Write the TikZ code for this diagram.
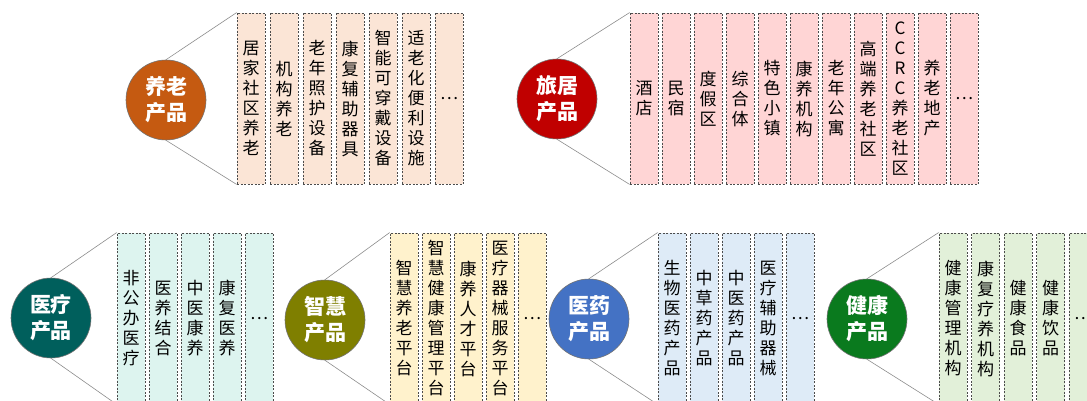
\documentclass[tikz,border=0pt]{standalone}
\usepackage{xcolor}
\usepackage{fontspec}
\usepackage{tikz}
\newfontfamily\cjk{Noto Sans CJK SC}
\definecolor{ylc}{HTML}{C55A11}
\definecolor{ylf}{HTML}{FBE5D6}
\definecolor{ljc}{HTML}{C00000}
\definecolor{ljf}{HTML}{FFD5D5}
\definecolor{ylic}{HTML}{005F5C}
\definecolor{ylif}{HTML}{DDF4EF}
\definecolor{zhc}{HTML}{7F7F00}
\definecolor{zhf}{HTML}{FFF2CC}
\definecolor{yyc}{HTML}{4472C4}
\definecolor{yyf}{HTML}{DEEBF7}
\definecolor{jkc}{HTML}{0A7A1E}
\definecolor{jkf}{HTML}{E2F0D9}
\tikzstyle{hub} = [circle, minimum size=80pt, inner sep=0pt, align=center, text=white, draw=black!55, line width=0.6pt, font=\cjk\bfseries\fontsize{21}{26}\selectfont]
\tikzstyle{cell} = [rectangle, minimum width=28pt, minimum height=171pt, inner sep=0pt, align=center, draw=black!70, dashed, dash pattern=on 2pt off 1.5pt, line width=0.8pt, font=\cjk\fontsize{17}{20}\selectfont]
\tikzstyle{spoke} = [draw=black!45, line width=0.6pt]

\begin{document}
\begin{tikzpicture}[x=1pt, y=-1pt, node distance=32pt]
\useasboundingbox (0,0) rectangle (1087,401);
\clip (0,0) rectangle (1087,401);
%---------------------------------养老产品
\node (yl) [hub, fill=ylc] at (166,100) {养老\\产品};
\node (yl1) [cell, fill=ylf] at (251,98.5) {居\\家\\社\\区\\养\\老};
\node (yl2) [cell, fill=ylf, node distance=33pt, right of=yl1] {机\\构\\养\\老};
\node (yl3) [cell, fill=ylf, node distance=33pt, right of=yl2] {老\\年\\照\\护\\设\\备};
\node (yl4) [cell, fill=ylf, node distance=33pt, right of=yl3] {康\\复\\辅\\助\\器\\具};
\node (yl5) [cell, fill=ylf, node distance=33pt, right of=yl4] {智\\能\\可\\穿\\戴\\设\\备};
\node (yl6) [cell, fill=ylf, node distance=33pt, right of=yl5] {适\\老\\化\\便\\利\\设\\施};
\node (yl7) [cell, fill=ylf, node distance=33pt, right of=yl6] {…};

%---------------------------------旅居产品
\node (lj) [hub, fill=ljc] at (557,99) {旅居\\产品};
\node (lj1) [cell, fill=ljf] at (644,98.5) {酒\\店};
\node (lj2) [cell, fill=ljf, right of=lj1] {民\\宿};
\node (lj3) [cell, fill=ljf, right of=lj2] {度\\假\\区};
\node (lj4) [cell, fill=ljf, right of=lj3] {综\\合\\体};
\node (lj5) [cell, fill=ljf, right of=lj4] {特\\色\\小\\镇};
\node (lj6) [cell, fill=ljf, right of=lj5] {康\\养\\机\\构};
\node (lj7) [cell, fill=ljf, right of=lj6] {老\\年\\公\\寓};
\node (lj8) [cell, fill=ljf, right of=lj7] {高\\端\\养\\老\\社\\区};
\node (lj9) [cell, fill=ljf, right of=lj8] {C\\C\\R\\C\\养\\老\\社\\区};
\node (lj10) [cell, fill=ljf, right of=lj9] {养\\老\\地\\产};
\node (lj11) [cell, fill=ljf, right of=lj10] {…};

%---------------------------------医疗产品
\node (yli) [hub, fill=ylic] at (51,318) {医疗\\产品};
\node (yli1) [cell, fill=ylif] at (131,318.5) {非\\公\\办\\医\\疗};
\node (yli2) [cell, fill=ylif, right of=yli1] {医\\养\\结\\合};
\node (yli3) [cell, fill=ylif, right of=yli2] {中\\医\\康\\养};
\node (yli4) [cell, fill=ylif, right of=yli3] {康\\复\\医\\养};
\node (yli5) [cell, fill=ylif, right of=yli4] {…};

%---------------------------------智慧产品
\node (zh) [hub, fill=zhc] at (325,320) {智慧\\产品};
\node (zh1) [cell, fill=zhf] at (404,318.5) {智\\慧\\养\\老\\平\\台};
\node (zh2) [cell, fill=zhf, right of=zh1] {智\\慧\\健\\康\\管\\理\\平\\台};
\node (zh3) [cell, fill=zhf, right of=zh2] {康\\养\\人\\才\\平\\台};
\node (zh4) [cell, fill=zhf, right of=zh3] {医\\疗\\器\\械\\服\\务\\平\\台};
\node (zh5) [cell, fill=zhf, right of=zh4] {…};

%---------------------------------医药产品
\node (yy) [hub, fill=yyc] at (589,319) {医药\\产品};
\node (yy1) [cell, fill=yyf] at (672,318.5) {生\\物\\医\\药\\产\\品};
\node (yy2) [cell, fill=yyf, right of=yy1] {中\\草\\药\\产\\品};
\node (yy3) [cell, fill=yyf, right of=yy2] {中\\医\\药\\产\\品};
\node (yy4) [cell, fill=yyf, right of=yy3] {医\\疗\\辅\\助\\器\\械};
\node (yy5) [cell, fill=yyf, right of=yy4] {…};

%---------------------------------健康产品
\node (jk) [hub, fill=jkc] at (867,319) {健康\\产品};
\node (jk1) [cell, fill=jkf] at (953,318.5) {健\\康\\管\\理\\机\\构};
\node (jk2) [cell, fill=jkf, node distance=32.5pt, right of=jk1] {康\\复\\疗\\养\\机\\构};
\node (jk3) [cell, fill=jkf, node distance=32.5pt, right of=jk2] {健\\康\\食\\品};
\node (jk4) [cell, fill=jkf, node distance=32.5pt, right of=jk3] {健\\康\\饮\\品};
\node (jk5) [cell, fill=jkf, node distance=32.5pt, right of=jk4] {…};

%---------------------------------LINES
\draw [spoke] (yl.north) -- (yl1.north west);
\draw [spoke] (yl.south) -- (yl1.south west);
\draw [spoke] (lj.north) -- (lj1.north west);
\draw [spoke] (lj.south) -- (lj1.south west);
\draw [spoke] (yli.north) -- (yli1.north west);
\draw [spoke] (yli.south) -- (yli1.south west);
\draw [spoke] (zh.north) -- (zh1.north west);
\draw [spoke] (zh.south) -- (zh1.south west);
\draw [spoke] (yy.north) -- (yy1.north west);
\draw [spoke] (yy.south) -- (yy1.south west);
\draw [spoke] (jk.north) -- (jk1.north west);
\draw [spoke] (jk.south) -- (jk1.south west);

\end{tikzpicture}
\end{document}
